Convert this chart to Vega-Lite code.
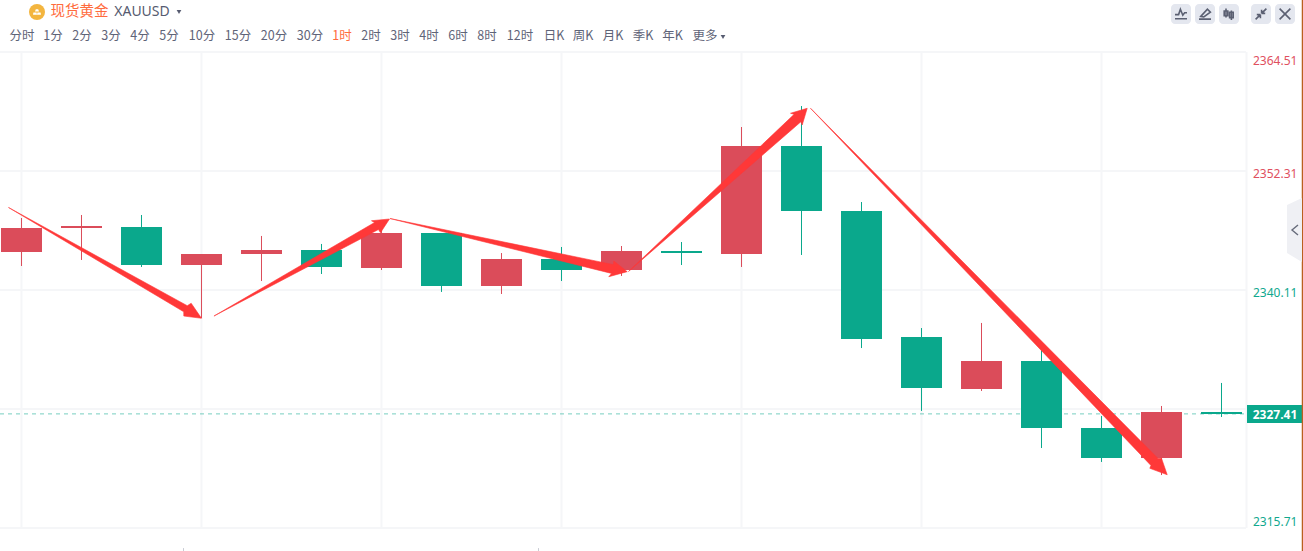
{"$schema":"https://vega.github.io/schema/vega-lite/v6.json","width":1303,"height":551,"padding":0,"autosize":{"type":"none"},"background":"#ffffff","config":{"view":{"stroke":null},"font":"Noto Sans"},
"datasets":{
"levels":[{"price":2364.51,"label":"2364.51"},{"price":2352.31,"label":"2352.31"},{"price":2340.11,"label":"2340.11"},{"price":2327.91},{"price":2315.71,"label":"2315.71"}],
"verticals":[{"i":0},{"i":3},{"i":6},{"i":9},{"i":12},{"i":15},{"i":18},{"i":20.4167}],
"last":[{"price":2327.41,"label":"2327.41"}],
"candles":[
{"i":0,"dir":"up","open":2344.01,"close":2346.47,"high":2347.49,"low":2342.57},
{"i":1,"dir":"up","open":2346.47,"close":2346.67,"high":2347.80,"low":2343.19},
{"i":2,"dir":"down","open":2346.57,"close":2342.67,"high":2347.80,"low":2342.47},
{"i":3,"dir":"up","open":2342.67,"close":2343.80,"high":2343.80,"low":2337.24},
{"i":4,"dir":"up","open":2343.80,"close":2344.21,"high":2345.65,"low":2341.03},
{"i":5,"dir":"down","open":2344.21,"close":2342.47,"high":2344.83,"low":2341.75},
{"i":6,"dir":"up","open":2342.37,"close":2345.95,"high":2346.50,"low":2342.16},
{"i":7,"dir":"down","open":2345.95,"close":2340.52,"high":2345.95,"low":2339.91},
{"i":8,"dir":"up","open":2340.52,"close":2343.29,"high":2343.90,"low":2339.70},
{"i":9,"dir":"down","open":2343.29,"close":2342.16,"high":2344.52,"low":2341.03},
{"i":10,"dir":"up","open":2342.16,"close":2344.11,"high":2344.62,"low":2341.55},
{"i":11,"dir":"down","open":2344.11,"close":2343.90,"high":2345.03,"low":2342.67},
{"i":12,"dir":"up","open":2343.80,"close":2354.87,"high":2356.82,"low":2342.47},
{"i":13,"dir":"down","open":2354.87,"close":2348.21,"high":2358.97,"low":2343.70},
{"i":14,"dir":"down","open":2348.21,"close":2335.09,"high":2349.13,"low":2334.16},
{"i":15,"dir":"down","open":2335.29,"close":2330.06,"high":2336.21,"low":2327.71},
{"i":16,"dir":"up","open":2329.96,"close":2332.83,"high":2336.73,"low":2329.76},
{"i":17,"dir":"down","open":2332.83,"close":2325.96,"high":2333.96,"low":2323.91},
{"i":18,"dir":"down","open":2325.96,"close":2322.89,"high":2327.19,"low":2322.48},
{"i":19,"dir":"up","open":2322.89,"close":2327.60,"high":2328.22,"low":2321.14},
{"i":20,"dir":"down","open":2327.60,"close":2327.40,"high":2330.58,"low":2327.09}],
"arrows":[
{"a":1,"k":1,"i":-0.2167,"p":2348.57},{"a":1,"k":2,"i":2.7625,"p":2338.50},{"a":1,"k":3,"i":2.828,"p":2338.75},{"a":1,"k":4,"i":3.0,"p":2337.21},{"a":1,"k":5,"i":2.705,"p":2337.44},{"a":1,"k":6,"i":2.704,"p":2337.88},
{"a":2,"k":1,"i":3.208,"p":2337.44},{"a":2,"k":2,"i":5.8845,"p":2347.03},{"a":2,"k":3,"i":5.833,"p":2347.21},{"a":2,"k":4,"i":6.133,"p":2347.39},{"a":2,"k":5,"i":5.983,"p":2345.98},{"a":2,"k":6,"i":5.949,"p":2346.31},
{"a":3,"k":1,"i":6.142,"p":2347.44},{"a":3,"k":2,"i":9.866,"p":2342.71},{"a":3,"k":3,"i":9.872,"p":2343.08},{"a":3,"k":4,"i":10.095,"p":2341.99},{"a":3,"k":5,"i":9.788,"p":2341.47},{"a":3,"k":6,"i":9.834,"p":2341.81},
{"a":4,"k":1,"i":10.117,"p":2342.01},{"a":4,"k":2,"i":12.877,"p":2358.12},{"a":4,"k":3,"i":12.817,"p":2358.23},{"a":4,"k":4,"i":13.095,"p":2358.74},{"a":4,"k":5,"i":13.012,"p":2357.03},{"a":4,"k":6,"i":12.99,"p":2357.36},
{"a":5,"k":1,"i":13.15,"p":2358.74},{"a":5,"k":2,"i":18.943,"p":2322.83},{"a":5,"k":3,"i":19.0,"p":2322.86},{"a":5,"k":4,"i":19.095,"p":2321.17},{"a":5,"k":5,"i":18.805,"p":2321.83},{"a":5,"k":6,"i":18.824,"p":2322.12}],
"intervals":[{"slot":0,"label":"分时"},{"slot":1,"label":"1分"},{"slot":2,"label":"2分"},{"slot":3,"label":"3分"},{"slot":4,"label":"4分"},{"slot":5,"label":"5分"},{"slot":6,"label":"10分"},{"slot":7,"label":"15分"},{"slot":8,"label":"20分"},{"slot":9,"label":"30分"},{"slot":10,"label":"1时"},{"slot":11,"label":"2时"},{"slot":12,"label":"3时"},{"slot":13,"label":"4时"},{"slot":14,"label":"6时"},{"slot":15,"label":"8时"},{"slot":16,"label":"12时"},{"slot":17,"label":"日K"},{"slot":18,"label":"周K"},{"slot":19,"label":"月K"},{"slot":20,"label":"季K"},{"slot":21,"label":"年K"},{"slot":22,"label":"更多"}],
"buttons":[{"slot":0,"icon":"line"},{"slot":1,"icon":"pen"},{"slot":2,"icon":"candle"},{"slot":3,"icon":"shrink"},{"slot":4,"icon":"close"}],
"footticks":[{"i":2.7},{"i":8.617}]
},
"resolve":{"scale":{"x":"independent","y":"independent","shape":"independent","color":"independent"}},
"layer":[
{"layer":[
{"data":{"name":"levels"},"mark":{"type":"rule","color":"#f5f6f8","strokeWidth":2},
 "encoding":{"y":{"field":"price","type":"quantitative","scale":{"domain":[2313.352,2369.841],"nice":false,"zero":false},"axis":null},
   "x":{"datum":-0.35833,"type":"quantitative","scale":{"domain":[-0.35833,21.35833],"nice":false,"zero":false,"padding":0},"axis":null},"x2":{"datum":20.4083}}},
{"data":{"name":"verticals"},"mark":{"type":"rule","color":"#f5f6f8","strokeWidth":2},
 "encoding":{"x":{"field":"i","type":"quantitative","axis":null},"y":{"datum":2364.51,"type":"quantitative","axis":null},"y2":{"datum":2315.71}}},
{"data":{"name":"footticks"},"mark":{"type":"rule","color":"#c9ccd4","strokeWidth":1},
 "encoding":{"x":{"field":"i","type":"quantitative","axis":null},"y":{"datum":2313.65,"type":"quantitative","axis":null},"y2":{"datum":2313.352}}},
{"data":{"name":"last"},"mark":{"type":"rule","color":"#0aa88c","opacity":0.55,"strokeWidth":1,"strokeDash":[4,4]},
 "encoding":{"y":{"field":"price","type":"quantitative","axis":null},"x":{"datum":-0.35833,"type":"quantitative","axis":null},"x2":{"datum":20.4083}}},
{"data":{"name":"candles"},"mark":{"type":"rule","strokeWidth":1},
 "encoding":{"x":{"field":"i","type":"quantitative","axis":null},"y":{"field":"low","type":"quantitative","axis":null},"y2":{"field":"high"},"color":{"field":"dir","type":"nominal","scale":{"domain":["up","down"],"range":["#db4c5a","#0aa88c"]},"legend":null}}},
{"data":{"name":"candles"},"mark":{"type":"bar","size":41},
 "encoding":{"x":{"field":"i","type":"quantitative","axis":null},"y":{"field":"open","type":"quantitative","axis":null},"y2":{"field":"close"},"color":{"field":"dir","type":"nominal","scale":{"domain":["up","down"],"range":["#db4c5a","#0aa88c"]},"legend":null}}},
{"data":{"name":"arrows"},"mark":{"type":"line","interpolate":"linear-closed","fill":"#ff3838","stroke":"#ff3838","strokeWidth":0.6},
 "encoding":{"x":{"field":"i","type":"quantitative","axis":null},"y":{"field":"p","type":"quantitative","axis":null},"detail":{"field":"a"},"order":{"field":"k","type":"quantitative"}}},
{"data":{"name":"levels"},"transform":[{"filter":"datum.price==2364.51"}],"mark":{"type":"text","color":"#e0505f","fontSize":12,"font":"Noto Sans","align":"left","baseline":"middle","dy":9},
 "encoding":{"text":{"field":"label"},"x":{"datum":20.525,"type":"quantitative","axis":null},"y":{"field":"price","type":"quantitative","axis":null}}},
{"data":{"name":"levels"},"transform":[{"filter":"datum.price==2352.31"}],"mark":{"type":"text","color":"#e0505f","fontSize":12,"font":"Noto Sans","align":"left","baseline":"middle","dy":3},
 "encoding":{"text":{"field":"label"},"x":{"datum":20.525,"type":"quantitative","axis":null},"y":{"field":"price","type":"quantitative","axis":null}}},
{"data":{"name":"levels"},"transform":[{"filter":"datum.price==2340.11"}],"mark":{"type":"text","color":"#10a88e","fontSize":12,"font":"Noto Sans","align":"left","baseline":"middle","dy":3},
 "encoding":{"text":{"field":"label"},"x":{"datum":20.525,"type":"quantitative","axis":null},"y":{"field":"price","type":"quantitative","axis":null}}},
{"data":{"name":"levels"},"transform":[{"filter":"datum.price==2315.71"}],"mark":{"type":"text","color":"#10a88e","fontSize":12,"font":"Noto Sans","align":"left","baseline":"middle","dy":-6},
 "encoding":{"text":{"field":"label"},"x":{"datum":20.525,"type":"quantitative","axis":null},"y":{"field":"price","type":"quantitative","axis":null}}},
{"data":{"name":"last"},"mark":{"type":"rect","color":"#0aa88c"},
 "encoding":{"x":{"datum":20.425,"type":"quantitative","axis":null},"x2":{"datum":21.342},"y":{"datum":2328.32,"type":"quantitative","axis":null},"y2":{"datum":2326.47}}},
{"data":{"name":"last"},"mark":{"type":"text","color":"#ffffff","fontSize":12,"fontWeight":"bold","font":"Noto Sans","align":"center","baseline":"middle","dy":1},
 "encoding":{"text":{"field":"label"},"x":{"datum":20.892,"type":"quantitative","axis":null},"y":{"field":"price","type":"quantitative","axis":null}}},
{"data":{"values":[{"edge":1}]},"mark":{"type":"rule","color":"#b9601f","strokeWidth":1.5},
 "encoding":{"x":{"datum":21.35,"type":"quantitative","axis":null},"y":{"datum":2313.352,"type":"quantitative","axis":null},"y2":{"datum":2369.841}}}
]},
{"data":{"name":"intervals"},"mark":{"type":"text","fontSize":12.5,"font":"Noto Sans CJK SC","align":"center","baseline":"middle"},
 "encoding":{"text":{"field":"label"},
  "x":{"field":"slot","type":"quantitative","axis":null,"scale":{"domain":[0,1,2,3,4,5,6,7,8,9,10,11,12,13,14,15,16,17,18,19,20,21,22],"range":[22,53,82,111,140,169,202,238,274,310,342,371,400,429,458,487,520,554,583,613,643,672.5,705]}},
  "y":{"datum":0,"type":"quantitative","axis":null,"scale":{"domain":[0,1],"range":[36,37]}},
  "color":{"condition":{"test":"datum.label==='1时'","value":"#ff6b3d"},"value":"#5f6478"}}},
{"data":{"values":[{"slot":0,"label":"现货黄金"}]},"mark":{"type":"text","fontSize":14.5,"font":"Noto Sans CJK SC","align":"center","baseline":"middle","color":"#ff6b3d"},
 "encoding":{"text":{"field":"label"},"x":{"field":"slot","type":"quantitative","axis":null,"scale":{"domain":[0,1],"range":[79.5,80.5]}},"y":{"datum":0,"type":"quantitative","axis":null,"scale":{"domain":[0,1],"range":[12,13]}}}},
{"data":{"values":[{"slot":0,"label":"XAUUSD"}]},"mark":{"type":"text","fontSize":14,"font":"Noto Sans","align":"center","baseline":"middle","color":"#565b70"},
 "encoding":{"text":{"field":"label"},"x":{"field":"slot","type":"quantitative","axis":null,"scale":{"domain":[0,1],"range":[142,143]}},"y":{"datum":0,"type":"quantitative","axis":null,"scale":{"domain":[0,1],"range":[12,13]}}}},
{"data":{"values":[{"slot":0},{"slot":1}]},"mark":{"type":"point","shape":"triangle-down","filled":true,"color":"#565b70","size":22,"opacity":1},
 "encoding":{"x":{"field":"slot","type":"quantitative","axis":null,"scale":{"domain":[0,1],"range":[179,723]}},"y":{"field":"slot","type":"quantitative","axis":null,"scale":{"domain":[0,1],"range":[12,37]}}}},
{"data":{"values":[{"slot":0}]},"mark":{"type":"point","shape":"circle","filled":true,"color":"#f3b53f","size":256,"opacity":1},
 "encoding":{"x":{"field":"slot","type":"quantitative","axis":null,"scale":{"domain":[0,1],"range":[37,38]}},"y":{"datum":0,"type":"quantitative","axis":null,"scale":{"domain":[0,1],"range":[12,13]}}}},
{"data":{"values":[{"slot":0}]},"mark":{"type":"point","shape":"M-0.3,-0.7H0.3L0.5,-0.1H-0.5ZM-0.9,0.1H-0.1L0,0.7H-1ZM0.1,0.1H0.9L1,0.7H0Z","filled":true,"color":"#ffffff","size":64,"opacity":1},
 "encoding":{"x":{"field":"slot","type":"quantitative","axis":null,"scale":{"domain":[0,1],"range":[37,38]}},"y":{"datum":0,"type":"quantitative","axis":null,"scale":{"domain":[0,1],"range":[12,13]}}}},
{"data":{"name":"buttons"},"mark":{"type":"rect","color":"#e4e7ef","width":20,"height":20,"cornerRadius":4},
 "encoding":{"x":{"field":"slot","type":"quantitative","axis":null,"scale":{"domain":[0,1,2,3,4],"range":[1181,1205,1229,1261,1285]}},"y":{"datum":0,"type":"quantitative","axis":null,"scale":{"domain":[0,1],"range":[14,15]}}}},
{"data":{"name":"buttons"},"mark":{"type":"point","filled":false,"stroke":"#5b6072","strokeWidth":1.6,"size":144,"opacity":1},
 "encoding":{"x":{"field":"slot","type":"quantitative","axis":null,"scale":{"domain":[0,1,2,3,4],"range":[1181,1205,1229,1261,1285]}},"y":{"datum":0,"type":"quantitative","axis":null,"scale":{"domain":[0,1],"range":[14,15]}},
  "shape":{"field":"icon","type":"nominal","legend":null,"scale":{"domain":["line","pen","candle","shrink","close"],"range":["M-1,0.8L1,0.8M-1,0.1L-0.4,0.1L-0.1,-0.8L0.3,0.2L0.6,-0.2L1,-0.2","M-1,0.85L1,0.85M-0.7,0.4L0.4,-0.8L0.9,-0.3L-0.2,0.5Z","M-0.5,-0.9V0.6M0.4,-0.6V1M-0.8,-0.5H-0.2V0.3H-0.8ZM0.1,-0.3H0.7V0.6H0.1Z","M-0.9,0.9L-0.1,0.1M-0.1,0.1H-0.7M-0.1,0.1V0.7M0.9,-0.9L0.1,-0.1M0.1,-0.1H0.7M0.1,-0.1V-0.7","M-0.9,-0.9L0.9,0.9M0.9,-0.9L-0.9,0.9"]}}}},
{"data":{"values":[{"slot":0}]},"mark":{"type":"point","shape":"M0.234,-1L-0.234,-0.78L-0.234,0.72L0.234,1Z","filled":true,"color":"#eff0f4","size":4096,"opacity":1},
 "encoding":{"x":{"field":"slot","type":"quantitative","axis":null,"scale":{"domain":[0,1],"range":[1294.5,1295.5]}},"y":{"datum":0,"type":"quantitative","axis":null,"scale":{"domain":[0,1],"range":[230,231]}}}},
{"data":{"values":[{"slot":0}]},"mark":{"type":"point","shape":"M0.6,-1L-0.6,0L0.6,1","filled":false,"stroke":"#666b7a","strokeWidth":1.4,"size":100,"opacity":1},
 "encoding":{"x":{"field":"slot","type":"quantitative","axis":null,"scale":{"domain":[0,1],"range":[1295,1296]}},"y":{"datum":0,"type":"quantitative","axis":null,"scale":{"domain":[0,1],"range":[230,231]}}}}
]}
